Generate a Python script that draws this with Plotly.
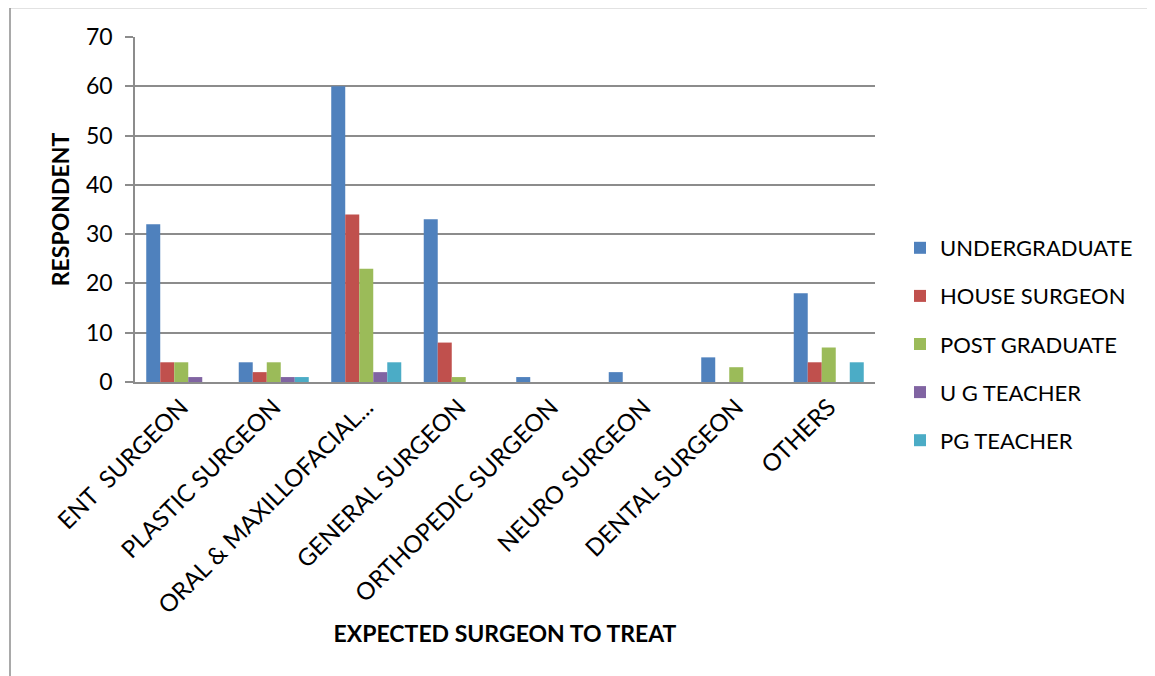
import plotly.graph_objects as go

categories = ["ENT  SURGEON", "PLASTIC SURGEON", "ORAL & MAXILLOFACIAL...", "GENERAL SURGEON",
              "ORTHOPEDIC SURGEON", "NEURO SURGEON", "DENTAL SURGEON", "OTHERS"]
undergraduate = [32, 4, 60, 33, 1, 2, 5, 18]
house_surgeon = [4, 2, 34, 8, 0, 0, 0, 4]
post_graduate = [4, 4, 23, 1, 0, 0, 3, 7]
ug_teacher = [1, 1, 2, 0, 0, 0, 0, 0]
pg_teacher = [0, 1, 4, 0, 0, 0, 0, 4]
series_names = ["UNDERGRADUATE", "HOUSE SURGEON", "POST GRADUATE", "U G TEACHER", "PG TEACHER"]
colors = ["#4F81BD", "#C0504D", "#9BBB59", "#8064A2", "#4BACC6"]

# page body adds an 8px offset; work in screenshot pixel coordinates
OFF = 8
W, H = 1155, 676
L, R, T, B = 135 - OFF, 875 - OFF, 37 - OFF, 382 - OFF

fig = go.Figure()
for i, (name, vals) in enumerate(zip(series_names,
                                     [undergraduate, house_surgeon, post_graduate, ug_teacher, pg_teacher])):
    fig.add_trace(go.Bar(x=categories, y=vals, name=name, marker_color=colors[i],
                         marker_line_width=0, legendgroup=f"g{i}"))

font = "Lato, 'Open Sans', sans-serif"
grid = "#8c8c8c"

def px_x(px):
    return (px - OFF - L) / (R - L)

def px_y(py):
    return (B - (py - OFF)) / (B - T)

fig.update_layout(
    width=W, height=H,
    margin=dict(l=L, r=W - R, t=T, b=H - B, pad=0),
    paper_bgcolor="white", plot_bgcolor="white",
    barmode="group", bargap=0.243, bargroupgap=0,
    font=dict(family=font, color="black", size=22),
    showlegend=True,
    legend=dict(x=px_x(900), y=px_y(227), xanchor="left", yanchor="top",
                font=dict(size=22, family=font), tracegroupgap=16.5,
                bgcolor="rgba(0,0,0,0)", itemwidth=30),
    xaxis=dict(tickangle=-45, tickfont=dict(size=24, family=font), showgrid=False,
               showline=True, linecolor=grid, linewidth=1.5, ticks="",
               title=dict(text="<b>EXPECTED SURGEON TO TREAT</b>", font=dict(size=23, family=font),
                          standoff=0),
               automargin=False),
    yaxis=dict(range=[0, 70], dtick=10, tickfont=dict(size=23, family=font),
               showgrid=True, gridcolor=grid, gridwidth=1.5,
               showline=True, linecolor=grid, linewidth=1.5,
               ticks="outside", ticklen=8, tickcolor=grid, tickwidth=1.5,
               ticklabelstandoff=8,
               zeroline=False,
               title=dict(text="<b>RESPONDENT</b>", font=dict(size=23, family=font), standoff=10),
               automargin=False),
)

# Outer chart border (top and left edges visible)
fig.add_shape(type="line", xref="paper", yref="paper",
              x0=px_x(10), x1=px_x(1170), y0=px_y(7.5), y1=px_y(7.5),
              line=dict(color="#8c8c8c", width=1.5))
fig.add_shape(type="line", xref="paper", yref="paper",
              x0=px_x(10), x1=px_x(10), y0=px_y(7.5), y1=px_y(690),
              line=dict(color="#8c8c8c", width=1.5))

fig.write_html("out.html")
